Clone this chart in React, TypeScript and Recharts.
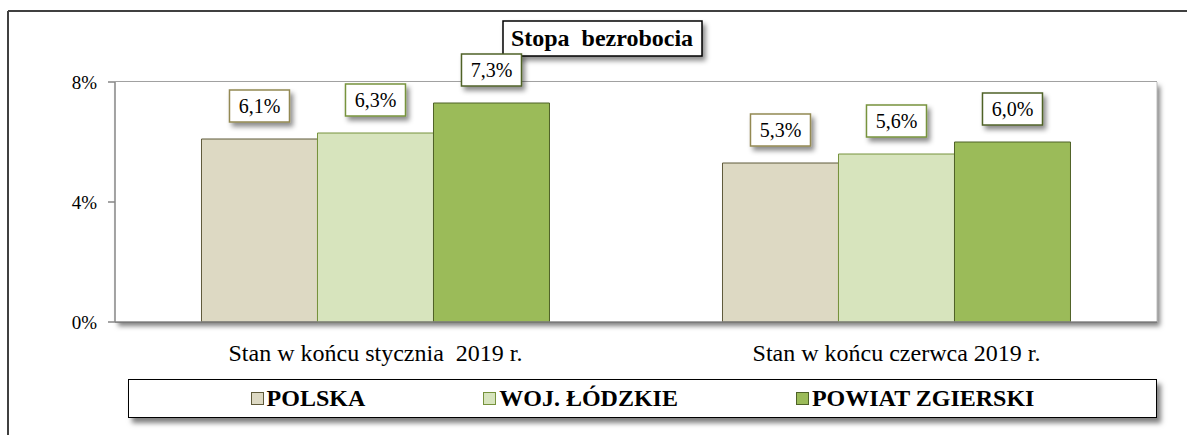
import React from 'react';
import { BarChart, Bar, XAxis, YAxis, CartesianGrid, Legend, LabelList } from 'recharts';

const categories = ['Stan w końcu stycznia  2019 r.', 'Stan w końcu czerwca 2019 r.'];
const polska = [6.1, 5.3];
const wojLodzkie = [6.3, 5.6];
const powiatZgierski = [7.3, 6.0];
const yTicks = [0, 4, 8];

const FONT = 'Liberation Serif';

const seriesDefs = [
  { key: 'polska', name: 'POLSKA', fill: '#ddd9c3', stroke: '#5f5a3a', labelStroke: '#938953' },
  { key: 'woj', name: 'WOJ. ŁÓDZKIE', fill: '#d7e4bd', stroke: '#76923c', labelStroke: '#77933c' },
  { key: 'powiat', name: 'POWIAT ZGIERSKI', fill: '#9bbb59', stroke: '#4f6228', labelStroke: '#4f6228' },
];

const data = categories.map((name, i) => ({
  name,
  polska: polska[i],
  woj: wojLodzkie[i],
  powiat: powiatZgierski[i],
}));

const W = 1187;
const H = 435;
// plot area: x 115..1157, y 82..322
const margin = { top: 82, right: 30, bottom: 83, left: 55 };

const fmt = (v: number) => v.toFixed(1).replace('.', ',') + '%';

const makeLabel = (stroke: string) => (props: any) => {
  const { x, y, width, value } = props;
  const cx = x + width / 2;
  const bw = 60;
  const bh = 32;
  const top = y - 17 - bh;
  return (
    <g>
      <rect x={cx - bw / 2} y={top} width={bw} height={bh} fill="#fff" stroke={stroke} strokeWidth={1.5} filter="url(#shadow)" />
      <text x={cx} y={top + bh / 2 + 7} textAnchor="middle" fontSize={20} fontFamily={FONT} fill="#000">
        {fmt(value)}
      </text>
    </g>
  );
};

const CatTick = (props: any) => {
  const { x, y, payload } = props;
  return (
    <text x={x} y={y + 16} textAnchor="middle" fontSize={24} fontFamily={FONT} fill="#000" style={{ whiteSpace: 'pre' }}>
      {payload.value}
    </text>
  );
};

// background pieces: outer frame, plot area with shadow
const Decor = () => (
  <g>
    <defs>
      <filter id="shadow" x="-20%" y="-20%" width="150%" height="180%">
        <feDropShadow dx="3" dy="4" stdDeviation="2.5" floodColor="#000" floodOpacity="0.45" />
      </filter>
      <filter id="plotShadow" x="-5%" y="-5%" width="110%" height="115%">
        <feDropShadow dx="3" dy="4" stdDeviation="2.5" floodColor="#000" floodOpacity="0.5" />
      </filter>
    </defs>
    <line x1={8} y1={11} x2={W} y2={11} stroke="#404040" strokeWidth={2} />
    <line x1={8} y1={11} x2={8} y2={H} stroke="#404040" strokeWidth={2} />
    <rect x={115} y={82} width={1042} height={240} fill="#fff" filter="url(#plotShadow)" />
    <line x1={1157} y1={82} x2={1157} y2={322} stroke="#bfbfbf" strokeWidth={1} />
  </g>
);

const Title = () => (
  <g>
    <rect x={503} y={21} width={199} height={35} fill="#fff" stroke="#000" strokeWidth={1.5} filter="url(#shadow)" />
    <text x={602} y={46} textAnchor="middle" fontSize={24} fontWeight="bold" fontFamily={FONT} fill="#000" style={{ whiteSpace: 'pre' }}>
      {'Stopa  bezrobocia'}
    </text>
  </g>
);

const LegendBox = () => (
  <div
    style={{
      width: 1029,
      height: 39,
      boxSizing: 'border-box',
      border: '1.5px solid #000',
      background: '#fff',
      boxShadow: '4px 5px 5px rgba(0,0,0,0.5)',
      display: 'flex',
      alignItems: 'center',
      justifyContent: 'center',
      gap: 118,
      fontFamily: FONT,
      fontWeight: 'bold',
      fontSize: 24,
      color: '#000',
    }}
  >
    {seriesDefs.map((s) => (
      <div key={s.key} style={{ display: 'flex', alignItems: 'center' }}>
        <span
          style={{
            display: 'inline-block',
            width: 11,
            height: 11,
            background: s.fill,
            border: `1px solid ${s.stroke}`,
            marginRight: 3,
          }}
        />
        <span>{s.name}</span>
      </div>
    ))}
  </div>
);

export default function App() {
  return (
    <div style={{ position: 'absolute', left: 0, top: 0, width: W, height: H, background: '#fff', fontFamily: FONT }}>
      <BarChart width={W} height={H} data={data} margin={margin} barCategoryGap="16.6%" barGap={0}>
        <Decor />
        <CartesianGrid vertical={false} stroke="#868686" strokeWidth={1.5} />
        <XAxis
          dataKey="name"
          axisLine={{ stroke: '#868686', strokeWidth: 1.5 }}
          tickLine={false}
          tickSize={6}
          tickMargin={17}
          height={30}
          tick={<CatTick />}
        />
        <YAxis
          width={60}
          domain={[0, 8]}
          ticks={yTicks}
          tickFormatter={(v: number) => `${v}%`}
          axisLine={{ stroke: '#868686', strokeWidth: 1.5 }}
          tickLine={{ stroke: '#868686', strokeWidth: 1.5 }}
          tickSize={7}
          tickMargin={11}
          tick={{ fontSize: 19, fill: '#000', fontFamily: FONT }}
        />
        {seriesDefs.map((s) => (
          <Bar key={s.key} dataKey={s.key} name={s.name} fill={s.fill} stroke={s.stroke} strokeWidth={1} isAnimationActive={false}>
            <LabelList dataKey={s.key} content={makeLabel(s.labelStroke)} />
          </Bar>
        ))}
        <Title />
        <Legend
          layout="horizontal"
          verticalAlign="middle"
          align="center"
          content={() => <LegendBox />}
          wrapperStyle={{ left: 128, top: 379, width: 1029, height: 39 }}
        />
      </BarChart>
    </div>
  );
}
